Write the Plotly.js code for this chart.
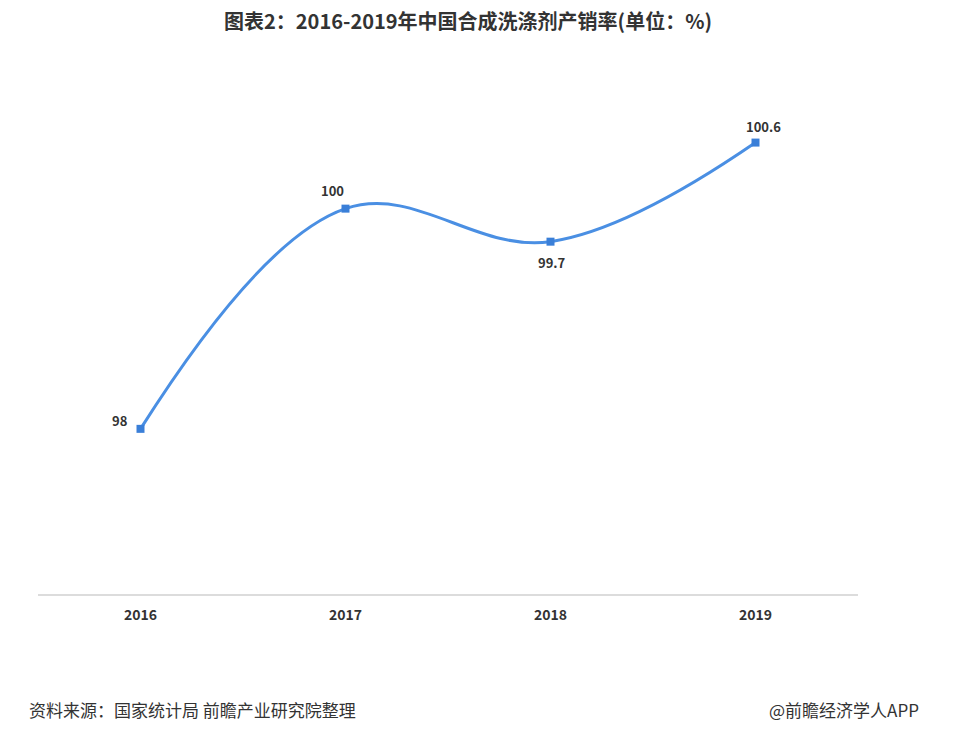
<!DOCTYPE html>
<html>
<head>
<meta charset="utf-8">
<script src="https://cdn.plot.ly/plotly-3.0.1.min.js"></script>
<style>html,body{margin:0;padding:0;background:#fff;}#chart{width:977px;height:747px;}</style>
</head>
<body>
<div id="chart"></div>
<script>
const years = ["2016", "2017", "2018", "2019"];
const rates = [98, 100, 99.7, 100.6];
const labelText = ["98", "100", "99.7", "100.6"];
const labelShiftX = [-21, -13, 1, 8];
const labelShiftY = [8, 18, -21, 16];

const font = "Noto Sans CJK SC, Noto Sans, sans-serif";

const trace = {
  x: years,
  y: rates,
  type: "scatter",
  mode: "lines+markers",
  line: {color: "#4a8fe3", width: 3, shape: "spline", smoothing: 1.1},
  marker: {symbol: "square", size: 8, color: "#3a7fd8"},
  cliponaxis: false,
  hoverinfo: "none"
};

const labels = years.map((yr, i) => ({
  x: i, y: rates[i], xref: "x", yref: "y",
  text: "<b>" + labelText[i] + "</b>",
  showarrow: false, xanchor: "center", yanchor: "middle",
  xshift: labelShiftX[i], yshift: labelShiftY[i],
  font: {family: font, size: 13, color: "#333"}
}));

const layout = {
  width: 977, height: 747,
  margin: {l: 38, r: 119, t: 60, b: 153},
  paper_bgcolor: "#fff", plot_bgcolor: "#fff",
  showlegend: false,
  title: {text: "<b>图表2：2016-2019年中国合成洗涤剂产销率(单位：%)</b>", font: {family: font, size: 20, color: "#333"}, x: 0.479, xanchor: "center", y: 0.971, yanchor: "middle"},
  xaxis: {
    type: "category", range: [-0.5, 3.5],
    showgrid: false, zeroline: false,
    showline: true, linecolor: "#dcdcdc", linewidth: 2,
    ticks: "", ticklabelstandoff: 7,
    tickfont: {family: font, size: 14, color: "#333", weight: "bold"}
  },
  yaxis: {
    range: [96.5, 101.35], visible: false, showgrid: false, zeroline: false
  },
  annotations: labels.concat([
    {text: "资料来源：国家统计局 前瞻产业研究院整理", xref: "paper", yref: "paper", x: -0.014, y: -0.217, xanchor: "left", yanchor: "middle", showarrow: false, font: {family: font, size: 17, color: "#333"}},
    {text: "@前瞻经济学人APP", xref: "paper", yref: "paper", x: 1.077, y: -0.217, xanchor: "right", yanchor: "middle", showarrow: false, font: {family: font, size: 17, color: "#333"}}
  ])
};

Plotly.newPlot("chart", [trace], layout, {displayModeBar: false, staticPlot: true});
</script>
</body>
</html>
